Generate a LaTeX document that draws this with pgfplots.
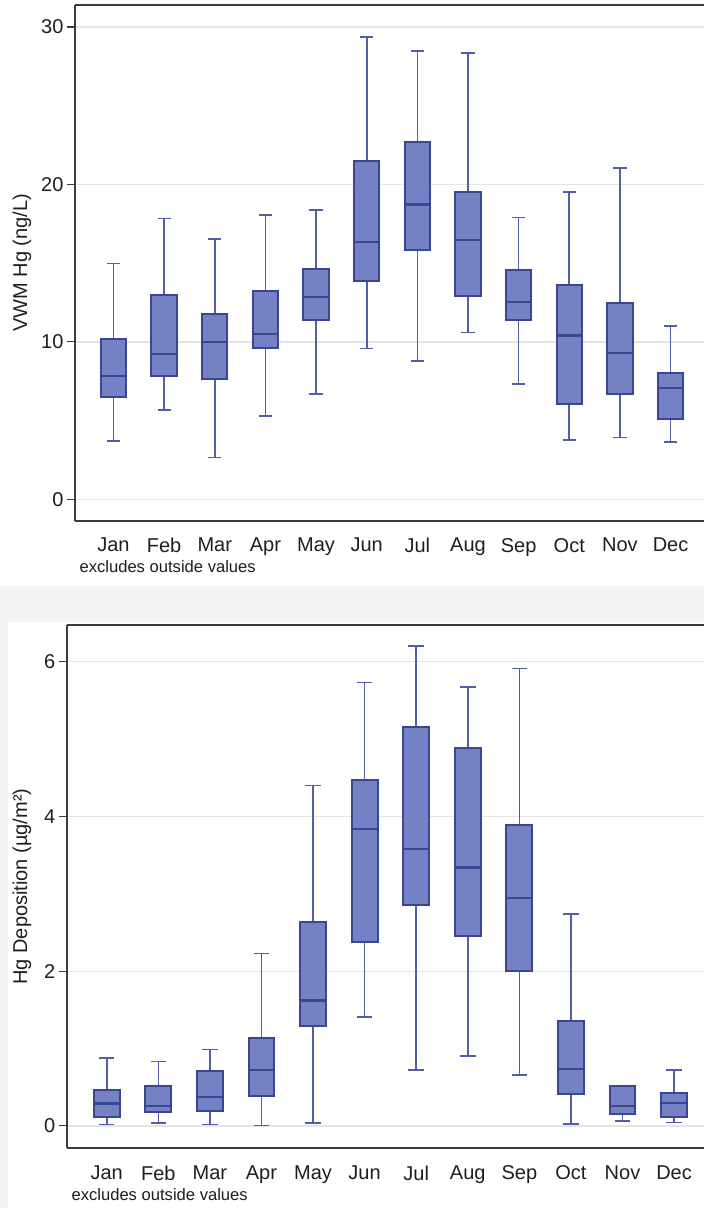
\documentclass[border=0pt]{standalone}
\usepackage{fontspec}
\setmainfont{Liberation Sans}
\usepackage{pgfplots}
\pgfplotsset{compat=1.18}
\usepackage{pgfplotstable}
\usepgfplotslibrary{statistics}
\definecolor{boxfill}{RGB}{116,129,194}
\definecolor{boxline}{RGB}{58,69,149}
\definecolor{whisk}{RGB}{84,94,168}
\definecolor{gridc}{RGB}{228,228,232}
\definecolor{framec}{RGB}{60,60,60}
\definecolor{bgc}{RGB}{244,244,246}
\definecolor{txt}{RGB}{30,30,30}

% VWM Hg (ng/L)
\pgfplotstableread{
lw    lq     med    uq     uw
3.72  6.49   7.85   10.20  14.99
5.66  7.80   9.23   13.00  17.83
2.65  7.63   10.00  11.78  16.52
5.30  9.59   10.52  13.24  18.07
6.68  11.39  12.85  14.60  18.39
9.57  13.87  16.35  21.52  29.37
8.77  15.84  18.73  22.69  28.47
10.59 12.92  16.47  19.53  28.35
7.34  11.42  12.53  14.55  17.90
3.76  6.05   10.40  13.63  19.53
3.93  6.66   9.28   12.46  21.03
3.62  5.08   7.09   8.02   11.00
}\wwm

% Hg deposition (ug/m2)
\pgfplotstableread{
lw    lq     med    uq     uw
0.020 0.110  0.290  0.465  0.875
0.040 0.180  0.255  0.515  0.830
0.020 0.190  0.375  0.705  0.985
0.005 0.390  0.720  1.140  2.230
0.035 1.285  1.620  2.640  4.400
1.405 2.375  3.840  4.470  5.730
0.720 2.860  3.580  5.160  6.200
0.900 2.455  3.340  4.890  5.675
0.655 2.000  2.945  3.890  5.910
0.025 0.410  0.730  1.350  2.735
0.060 0.150  0.255  0.510  0.510
0.045 0.120  0.300  0.425  0.720
}\dep

\newcommand\boxrow[3]{% table, row, whisker extend
  \pgfplotstablegetelem{#2}{lw}\of#1\let\LW\pgfplotsretval
  \pgfplotstablegetelem{#2}{lq}\of#1\let\LQ\pgfplotsretval
  \pgfplotstablegetelem{#2}{med}\of#1\let\MED\pgfplotsretval
  \pgfplotstablegetelem{#2}{uq}\of#1\let\UQ\pgfplotsretval
  \pgfplotstablegetelem{#2}{uw}\of#1\let\UW\pgfplotsretval
  \pgfmathtruncatemacro\POS{#2+1}%
  \edef\temp{\noexpand\addplot[draw=whisk, line width=1.6pt, boxplot prepared={draw position=\POS,
      lower whisker=\LW, lower quartile=\LQ, median=\MED,
      upper quartile=\UQ, upper whisker=\UW, whisker extend=#3}] coordinates {};}%
  \temp
}

\pgfplotsset{
  hgbox/.style={
    scale only axis,
    axis x line=box, axis y line=left,
    every outer x axis line/.append style={-},
    every outer y axis line/.append style={-},
    x axis line style={-}, y axis line style={-},
    axis line style={draw=framec, line width=1.8pt},
    xtick={1,...,12},
    xticklabels={Jan,Feb,Mar,Apr,May,Jun,Jul,Aug,Sep,Oct,Nov,Dec},
    xtick style={draw=none},
    tick align=outside, major tick length=8pt,
    ytick style={draw=framec, line width=1.2pt},
    ymajorgrids, grid style={draw=gridc, line width=1.3pt},
    tick label style={font=\fontsize{20}{23}\selectfont, text=txt},
    xticklabel style={yshift=-6pt},
    /pgf/number format/assume math mode=true,
    label style={font=\fontsize{20}{23}\selectfont, text=txt},
    boxplot/draw direction=y,
    boxplot/box extend=0.5,
    boxplot/every box/.style={draw=boxline, fill=boxfill, line width=2pt},
    boxplot/every whisker/.style={draw=whisk, line width=1.6pt},
    boxplot/every median/.style={draw=boxline, line width=2.2pt},
  }
}

\begin{document}
\begin{tikzpicture}[x=1pt,y=1pt]
\useasboundingbox (0,0) rectangle (704,1208);
\fill[bgc] (0,586) rectangle (704,622);
\fill[bgc] (0,0) rectangle (8,622);

\begin{axis}[hgbox,
  at={(75pt,687.3pt)}, anchor=south west,
  width=629pt, height=515.7pt,
  xmin=0.24, xmax=12.66, ymin=-1.36, ymax=31.4,
  ytick={0,10,20,30},
  ylabel={VWM Hg (ng/L)},
  ylabel style={at={(axis description cs:-0.0843,0.5)}, anchor=center},
]
\pgfplotsinvokeforeach{0,...,11}{\boxrow{\wwm}{#1}{0.26}}
\end{axis}
\node[anchor=west, font=\fontsize{16.6}{19}\selectfont, text=txt] at (76,641) {excludes outside values};

\begin{axis}[hgbox,
  at={(66.7pt,59.7pt)}, anchor=south west,
  width=637.3pt, height=523.3pt,
  xmin=0.224, xmax=12.58, ymin=-0.29, ymax=6.475,
  ytick={0,2,4,6},
  ylabel={Hg Deposition (µg/m²)},
  ylabel style={at={(axis description cs:-0.0701,0.5)}, anchor=center},
]
\pgfplotsinvokeforeach{0,...,11}{\boxrow{\dep}{#1}{0.3}}
\end{axis}
\node[anchor=west, font=\fontsize{16.6}{19}\selectfont, text=txt] at (68,13) {excludes outside values};
\end{tikzpicture}
\end{document}
